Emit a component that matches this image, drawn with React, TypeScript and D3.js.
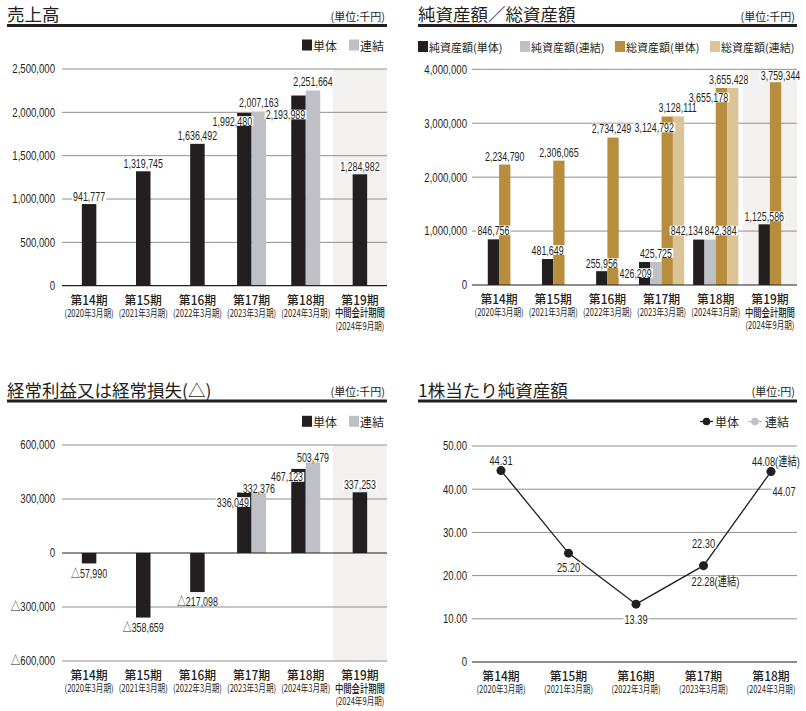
import * as d3 from "d3";
import { useLayoutEffect, useRef, useState } from "react";

const W = 806;
const H = 711;
const FONT_JP = "'Noto Sans CJK JP', 'Noto Sans', sans-serif";
const FONT_NUM = "'Liberation Sans', Arial, 'Noto Sans CJK JP', sans-serif";
const LABEL_SQUEEZE = 0.74;
const TICK_SQUEEZE = 0.8;
const BLACK = "#231f20";
const GRAY = "#bfbfc6";
const GOLD = "#b88d3e";
const LIGHTGOLD = "#dcc499";
const SHADE = "#f2f1ef";
const GRID = "#8f8f8f";

// ---- data ----
const periods = ["第14期", "第15期", "第16期", "第17期", "第18期", "第19期"];
const periodNotes = [
  ["(2020年3月期)"],
  ["(2021年3月期)"],
  ["(2022年3月期)"],
  ["(2023年3月期)"],
  ["(2024年3月期)"],
  ["中間会計期間", "(2024年9月期)"],
];

const salesSolo = [941777, 1319745, 1636492, 1992480, 2193989, 1284982];
const salesCons = [null, null, null, 2007163, 2251664, null];
const salesTicks = [0, 500000, 1000000, 1500000, 2000000, 2500000];

const netSolo = [846756, 481649, 255956, 426209, 842134, 1125586];
const netCons = [null, null, null, 425725, 842384, null];
const totalSolo = [2234790, 2306065, 2734249, 3124792, 3655178, 3759344];
const totalCons = [null, null, null, 3128111, 3655428, null];
const assetTicks = [0, 1000000, 2000000, 3000000, 4000000];

const ordSolo = [-57990, -358659, -217098, 336049, 467123, 337253];
const ordCons = [null, null, null, 332376, 503479, null];
const ordTicks = [-600000, -300000, 0, 300000, 600000];

const bpsPeriods = periods.slice(0, 5);
const bpsSolo = [44.31, 25.2, 13.39, 22.3, 44.07];
const bpsCons = [null, null, null, 22.28, 44.08];
const bpsTicks = [0, 10, 20, 30, 40, 50];

// label nudges (dx, dy from the bar end), layout only
const salesSoloNudge = [[0, -8], [0, -8], [0, -8], [-12, 8], [-13, 19], [0, -8]];
const salesConsNudge = [null, null, null, [0, -9], [0, -9], null];
const netSoloNudge = [[0, -9], [0, -9], [0, -8], [-9, 11], [-12, -9], [0, -8]];
const netConsNudge = [null, null, null, [0, -9], [10.5, -9], null];
const totalSoloNudge = [[0, -8.5], [0, -8.5], [-1.5, -9], [-13, 11], [-13, 9.5], [5, -7]];
const totalConsNudge = [null, null, null, [-1, -9], [-4, -8], null];
const ordSoloNudge = [[0, 10], [0, 10], [0, 9], [-11.5, 9.5], [-11.5, 8], [0, -8]];
const ordConsNudge = [null, null, null, [0, -5], [0, -5], null];
const bpsSoloNudge = [[0, -10], [0, 14], [0, 15], [0, -22], [13, 20]];
const bpsConsNudge = [null, null, null, [-12, 16], [-19, -10]];

const fmt = d3.format(",");
const fmtSigned = (v: number) => (v < 0 ? "△" : "") + fmt(Math.abs(v));

function Label({ x, y, text, anchor = "middle", size = 12 }: { x: number; y: number; text: string; anchor?: string; size?: number }) {
  const ref = useRef<SVGTextElement>(null);
  const [box, setBox] = useState<any>(null);
  useLayoutEffect(() => {
    if (ref.current) {
      const b = ref.current.getBBox();
      setBox({ x: b.x, y: b.y, width: b.width, height: b.height });
    }
  }, [x, y, text]);
  return (
    <g transform={`translate(${x},${y}) scale(${LABEL_SQUEEZE},1)`}>
      {box && <rect x={box.x - 1.5} y={box.y + 2} width={box.width + 3} height={box.height - 4} fill="#fff" />}
      <text
        ref={ref}
        textAnchor={anchor as any}
        dominantBaseline="central"
        fontFamily={FONT_NUM}
        fontSize={size}
        fill={BLACK}
      >
        {text}
      </text>
    </g>
  );
}

function TickText({ x, y, text }: { x: number; y: number; text: string }) {
  return (
    <text
      transform={`translate(${x},${y}) scale(${TICK_SQUEEZE},1)`}
      textAnchor="end"
      dominantBaseline="central"
      fontFamily={FONT_NUM}
      fontSize={12}
      fill={BLACK}
    >
      {text}
    </text>
  );
}

function Header({ x1, x2, y, title, unit }: any) {
  return (
    <g>
      <text x={x1} y={y} dominantBaseline="central" fontFamily={FONT_JP} fontSize={17.5} fontWeight={400} fill={BLACK}>
        {title}
      </text>
      <text x={x2 - 2} y={y + 2} textAnchor="end" dominantBaseline="central" fontFamily={FONT_JP} fontSize={11} fill={BLACK}>
        {unit}
      </text>
      <line x1={x1} x2={x2} y1={y + 12} y2={y + 12} stroke={BLACK} strokeWidth={3} />
    </g>
  );
}

function Legend({ items, y, size }: any) {
  return (
    <g fontFamily={FONT_JP} fontSize={size} fill={BLACK}>
      {items.map((it: any) => (
        <g key={it.label}>
          <rect x={it.x} y={y - 5.5} width={10} height={11} fill={it.color} />
          <text x={it.x + 11} y={y} dominantBaseline="central">
            {it.label}
          </text>
        </g>
      ))}
    </g>
  );
}

function PeriodLabels({ centers, notes, names, y0 }: any) {
  return (
    <g fontFamily={FONT_JP} fill={BLACK}>
      {names.map((p: string, i: number) => (
        <g key={p}>
          <text
            transform={`translate(${centers[i]},${y0 + 14}) scale(0.95,1)`}
            textAnchor="middle"
            dominantBaseline="central"
            fontSize={12.5}
            fontWeight={500}
          >
            {p}
          </text>
          {notes[i].map((n: string, j: number) => {
            const small = n.startsWith("(");
            return (
              <text
                key={n}
                transform={`translate(${centers[i]},${y0 + 27 + j * 13}) scale(0.76,1)`}
                textAnchor="middle"
                dominantBaseline="central"
                fontSize={small ? 10 : 11}
                fontWeight={small ? 400 : 500}
              >
                {n}
              </text>
            );
          })}
        </g>
      ))}
    </g>
  );
}

function BarChart({ x1, x2, domain, yTop, yBottom, ticks, tickX, series, barW }: any) {
  const x = d3.scaleBand<string>().domain(periods).range([x1, x2]);
  const y = d3.scaleLinear().domain(domain).range([yBottom, yTop]);
  const bw = x.bandwidth();
  const y0 = y(0);
  const lastX = x(periods[periods.length - 1])!;

  const bars: any[] = [];
  const labels: any[] = [];
  periods.forEach((p, i) => {
    const present = series.filter((s: any) => s.values[i] != null);
    const start = x(p)! + bw / 2 - (present.length * barW) / 2;
    present.forEach((s: any, k: number) => {
      const v = s.values[i];
      const bx = start + k * barW;
      const yv = y(v);
      bars.push(
        <rect key={`${s.key}-${p}`} x={bx} y={Math.min(yv, y0)} width={barW} height={Math.abs(yv - y0)} fill={s.color} />
      );
      const [dx, dy] = s.nudge[i];
      labels.push(<Label key={`l-${s.key}-${p}`} x={bx + barW / 2 + dx} y={yv + dy} text={fmtSigned(v)} />);
    });
  });

  return (
    <g>
      <rect x={lastX} y={yTop} width={x2 - lastX} height={yBottom - yTop} fill={SHADE} />
      {ticks.map((t: number) => (
        <g key={t}>
          {t !== 0 && <line x1={x1} x2={x2} y1={y(t)} y2={y(t)} stroke={GRID} strokeWidth={1} />}
          <TickText x={tickX} y={y(t)} text={fmtSigned(t)} />
        </g>
      ))}
      {bars}
      <line x1={x1} x2={x2} y1={y0} y2={y0} stroke={BLACK} strokeWidth={1.2} />
      {labels}
      <PeriodLabels centers={periods.map((p) => x(p)! + bw / 2)} names={periods} notes={periodNotes} y0={yBottom} />
    </g>
  );
}

function BpsChart() {
  const x1 = 472;
  const x2 = 797;
  const x = d3.scalePoint<string>().domain(bpsPeriods).range([501, 771]);
  const y = d3.scaleLinear().domain([0, 50]).range([662, 446]);
  const line = d3
    .line<number>()
    .x((_, i) => x(bpsPeriods[i])!)
    .y((d) => y(d));
  return (
    <g>
      {bpsTicks.map((t) => (
        <g key={t}>
          <line x1={x1} x2={x2} y1={y(t)} y2={y(t)} stroke={t === 0 ? BLACK : GRID} strokeWidth={t === 0 ? 1.2 : 1} />
          <TickText x={467} y={y(t)} text={t === 0 ? "0" : d3.format(".2f")(t)} />
        </g>
      ))}
      <path d={line(bpsSolo) || ""} fill="none" stroke={BLACK} strokeWidth={1.3} />
      {bpsCons.map((v, i) =>
        v == null ? null : <circle key={`c${i}`} cx={x(bpsPeriods[i])} cy={y(v)} r={4.5} fill={GRAY} />
      )}
      {bpsSolo.map((v, i) => (
        <circle key={`s${i}`} cx={x(bpsPeriods[i])} cy={y(v)} r={4.5} fill={BLACK} />
      ))}
      {bpsSolo.map((v, i) => (
        <Label key={`ls${i}`} size={12.5} x={x(bpsPeriods[i])! + bpsSoloNudge[i][0]} y={y(v) + bpsSoloNudge[i][1]} text={v.toFixed(2)} />
      ))}
      {bpsCons.map((v, i) =>
        v == null ? null : (
          <Label
            key={`lc${i}`}
            anchor="start"
            size={12.5}
            x={x(bpsPeriods[i])! + bpsConsNudge[i]![0]}
            y={y(v) + bpsConsNudge[i]![1]}
            text={`${v.toFixed(2)}(連結)`}
          />
        )
      )}
      <PeriodLabels centers={bpsPeriods.map((p) => x(p)!)} names={bpsPeriods} notes={periodNotes.slice(0, 5)} y0={662} />
      <g fontFamily={FONT_JP} fontSize={12} fill={BLACK}>
        <line x1={700} x2={713} y1={421.5} y2={421.5} stroke={BLACK} strokeWidth={1.3} />
        <circle cx={706.5} cy={421.5} r={3.8} fill={BLACK} />
        <text x={715} y={421.5} dominantBaseline="central">単体</text>
        <line x1={748} x2={762} y1={421.5} y2={421.5} stroke={GRAY} strokeWidth={1.3} />
        <circle cx={755} cy={421.5} r={3.8} fill={GRAY} />
        <text x={765} y={421.5} dominantBaseline="central">連結</text>
      </g>
    </g>
  );
}

export default function App() {
  return (
    <svg width={W} height={H} style={{ position: "absolute", left: 0, top: 0 }}>
      <rect width={W} height={H} fill="#fff" />

      {/* 売上高 */}
      <Header x1={7} x2={387} y={13.5} title="売上高" unit="(単位:千円)" />
      <Legend
        y={45}
        size={12}
        items={[
          { label: "単体", color: BLACK, x: 302 },
          { label: "連結", color: GRAY, x: 349 },
        ]}
      />
      <BarChart
        x1={62}
        x2={387}
        domain={[0, 2500000]}
        yTop={69}
        yBottom={285.7}
        ticks={salesTicks}
        tickX={55}
        barW={14.5}
        series={[
          { key: "solo", values: salesSolo, color: BLACK, nudge: salesSoloNudge },
          { key: "cons", values: salesCons, color: GRAY, nudge: salesConsNudge },
        ]}
      />

      {/* 純資産額／総資産額 */}
      <Header x1={418} x2={797} y={13.5} title="純資産額／総資産額" unit="(単位:千円)" />
      <Legend
        y={46.5}
        size={11}
        items={[
          { label: "純資産額(単体)", color: BLACK, x: 418 },
          { label: "純資産額(連結)", color: GRAY, x: 520 },
          { label: "総資産額(単体)", color: GOLD, x: 615 },
          { label: "総資産額(連結)", color: LIGHTGOLD, x: 710 },
        ]}
      />
      <BarChart
        x1={472}
        x2={797}
        domain={[0, 4000000]}
        yTop={69.3}
        yBottom={285}
        ticks={assetTicks}
        tickX={467}
        barW={11.3}
        series={[
          { key: "netSolo", values: netSolo, color: BLACK, nudge: netSoloNudge },
          { key: "netCons", values: netCons, color: GRAY, nudge: netConsNudge },
          { key: "totSolo", values: totalSolo, color: GOLD, nudge: totalSoloNudge },
          { key: "totCons", values: totalCons, color: LIGHTGOLD, nudge: totalConsNudge },
        ]}
      />

      {/* 経常利益又は経常損失 */}
      <Header x1={7} x2={387} y={389} title="経常利益又は経常損失(△)" unit="(単位:千円)" />
      <Legend
        y={421.3}
        size={12}
        items={[
          { label: "単体", color: BLACK, x: 302 },
          { label: "連結", color: GRAY, x: 349 },
        ]}
      />
      <BarChart
        x1={62}
        x2={387}
        domain={[-600000, 600000]}
        yTop={445}
        yBottom={661}
        ticks={ordTicks}
        tickX={55}
        barW={14.5}
        series={[
          { key: "solo", values: ordSolo, color: BLACK, nudge: ordSoloNudge },
          { key: "cons", values: ordCons, color: GRAY, nudge: ordConsNudge },
        ]}
      />

      {/* 1株当たり純資産額 */}
      <Header x1={418} x2={797} y={389} title="1株当たり純資産額" unit="(単位:円)" />
      <BpsChart />
    </svg>
  );
}
